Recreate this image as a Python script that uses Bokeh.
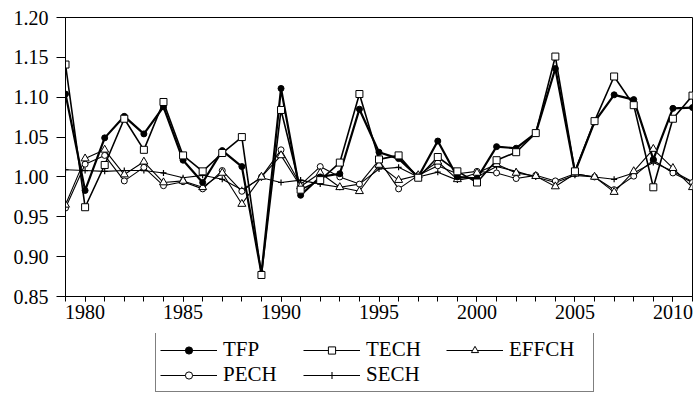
from bokeh.plotting import figure
from bokeh.layouts import column
from bokeh.models import Legend, LegendItem, FixedTicker, Range1d, PrintfTickFormatter
from bokeh.embed import file_html
from bokeh.resources import INLINE

years = list(range(1979, 2012))
x_major = [1980, 1985, 1990, 1995, 2000, 2005, 2010]
y_ticks = [0.85, 0.90, 0.95, 1.00, 1.05, 1.10, 1.15, 1.20]

tfp = [1.104, 0.983, 1.049, 1.076, 1.054, 1.088, 1.021, 0.993, 1.033, 1.013,
       0.879, 1.111, 0.977, 1.000, 1.004, 1.085, 1.031, 1.023, 1.000, 1.045,
       1.000, 0.998, 1.038, 1.036, 1.055, 1.136, 1.006, 1.069, 1.103, 1.097,
       1.022, 1.086, 1.087]
tech = [1.141, 0.962, 1.015, 1.073, 1.034, 1.094, 1.027, 1.007, 1.030, 1.050,
        0.877, 1.084, 0.984, 0.996, 1.018, 1.104, 1.022, 1.027, 0.999, 1.025,
        1.007, 0.993, 1.021, 1.031, 1.055, 1.151, 1.007, 1.070, 1.126, 1.090,
        0.987, 1.073, 1.102]
effch = [0.965, 1.023, 1.034, 1.003, 1.019, 0.993, 0.995, 0.987, 1.005, 0.966,
         1.000, 1.027, 0.988, 1.005, 0.987, 0.982, 1.015, 0.996, 1.002, 1.019,
         0.997, 1.005, 1.016, 1.005, 1.001, 0.988, 1.004, 1.000, 0.981, 1.007,
         1.035, 1.011, 0.987]
pech = [0.961, 1.016, 1.027, 0.995, 1.012, 0.989, 0.994, 0.985, 1.008, 0.982,
        1.000, 1.034, 0.990, 1.013, 1.000, 0.991, 1.021, 0.985, 1.002, 1.014,
        1.004, 1.007, 1.005, 0.998, 1.002, 0.995, 1.004, 1.000, 0.984, 1.001,
        1.021, 1.005, 0.993]
sech = [1.009, 1.008, 1.007, 1.008, 1.008, 1.005, 0.999, 1.002, 0.997, 0.984,
        0.999, 0.993, 0.996, 0.991, 0.987, 0.991, 1.010, 1.012, 1.000, 1.006,
        0.996, 1.000, 1.013, 1.007, 1.000, 0.993, 1.002, 1.000, 0.997, 1.005,
        1.018, 1.007, 0.994]
labels = ["TFP", "TECH", "EFFCH", "PECH", "SECH"]

FONT = "Liberation Serif"

# series styles: (line width, marker, marker size, fill)
styles = {
    "TFP": (2.2, "circle", 6, "black"),
    "TECH": (1.6, "square", 7, "white"),
    "EFFCH": (1.1, "triangle", 8, "white"),
    "PECH": (1.1, "circle", 6, "white"),
    "SECH": (1.1, "cross", 6, None),
}
series = {"TFP": tfp, "TECH": tech, "EFFCH": effch, "PECH": pech, "SECH": sech}

p = figure(width=700, height=333, x_range=Range1d(1979, 2011), y_range=Range1d(0.85, 1.20),
           output_backend="svg", toolbar_location=None,
           min_border_left=65, min_border_top=17, min_border_right=8, min_border_bottom=37)
p.xgrid.visible = False
p.ygrid.visible = False
p.outline_line_color = "black"
p.outline_line_width = 1
p.background_fill_color = "white"
p.border_fill_color = "white"

p.xaxis.ticker = FixedTicker(ticks=x_major, minor_ticks=years)
p.yaxis.ticker = FixedTicker(ticks=y_ticks)
p.yaxis.formatter = PrintfTickFormatter(format="%.2f")
for ax in (p.xaxis[0], p.yaxis[0]):
    ax.axis_line_color = "black"
    ax.major_tick_line_color = "black"
    ax.minor_tick_line_color = "black"
    ax.major_tick_in = 0
    ax.minor_tick_in = 0
    ax.major_label_text_font = FONT
    ax.major_label_text_font_size = "20px"
    ax.major_label_text_color = "black"
p.xaxis.major_tick_out = 5
p.xaxis.minor_tick_out = 5
p.xaxis.major_label_standoff = 3
p.yaxis.major_tick_out = 9
p.yaxis.minor_tick_out = 0
p.yaxis.major_label_standoff = 8

# lines first, then markers (TECH squares on top)
for name in labels:
    lw = styles[name][0]
    p.line(years, series[name], line_color="black", line_width=lw)
for name in ["SECH", "PECH", "EFFCH", "TFP", "TECH"]:
    _, mk, sz, fill = styles[name]
    if fill is None:
        p.scatter(years, series[name], marker=mk, size=sz, line_color="black", line_width=1.2)
    else:
        p.scatter(years, series[name], marker=mk, size=sz, line_color="black",
                  fill_color=fill, line_width=1)

# legend strip below the chart: same series on a range that keeps them out of view,
# so only the legend entries show
q = figure(width=700, height=64, x_range=Range1d(0, 1), y_range=Range1d(0, 1),
           output_backend="svg", toolbar_location=None,
           x_axis_location=None, y_axis_location=None,
           min_border_left=0, min_border_right=0, min_border_top=0, min_border_bottom=0)
q.xgrid.visible = False
q.ygrid.visible = False
q.outline_line_color = None
q.border_fill_color = "white"
items = []
for name in labels:
    lw, mk, sz, fill = styles[name]
    lr = q.line(years, series[name], line_color="black", line_width=1.2)
    if fill is None:
        mr = q.scatter(years, series[name], marker=mk, size=sz - 1, line_color="black", line_width=1.1)
    else:
        mr = q.scatter(years, series[name], marker=mk, size=sz - 2, line_color="black",
                       fill_color=fill, line_width=1)
    items.append(LegendItem(label=name, renderers=[lr, mr]))

legend = Legend(items=items, location=(90, 5), orientation="horizontal", ncols=3)
legend.label_text_font = FONT
legend.label_text_font_size = "21px"
legend.label_text_color = "black"
legend.glyph_width = 57
legend.glyph_height = 18
legend.label_standoff = 6
legend.label_width = 80
legend.spacing = 0
legend.padding = 4
legend.margin = 0
legend.label_height = 18
legend.border_line_color = "black"
legend.border_line_width = 1
legend.background_fill_alpha = 1
q.add_layout(legend, "center")

layout = column(p, q, spacing=0)
open("out.html", "w").write(file_html(layout, INLINE))
